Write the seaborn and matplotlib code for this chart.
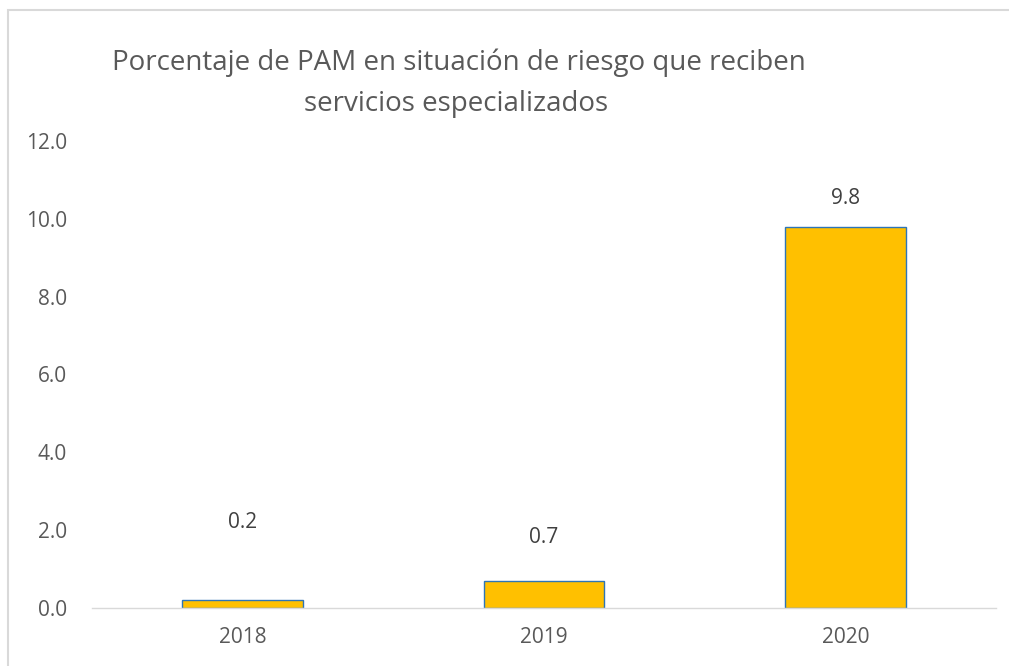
import matplotlib
matplotlib.use("Agg")
import matplotlib.pyplot as plt
import seaborn as sns
import pandas as pd
from matplotlib.patches import Rectangle

years = ["2018", "2019", "2020"]
values = [0.2, 0.7, 9.8]
value_labels = ["0.2", "0.7", "9.8"]
label_offsets = [2.0, 1.1, 0.73]
title_line1 = "Porcentaje de PAM en situación de riesgo que reciben"
title_line2 = "servicios especializados"
yticks = [0, 2, 4, 6, 8, 10, 12]

sns.set_theme(style="white")
plt.rcParams["font.family"] = ["Open Sans", "DejaVu Sans"]

W, H = 1009, 666
fig = plt.figure(figsize=(W / 100, H / 100), dpi=100)
fig.patch.set_facecolor("white")
ax = fig.add_axes([92 / W, 1 - 608 / H, (996 - 92) / W, (608 - 141) / H])

df = pd.DataFrame({"year": years, "value": values})
sns.barplot(data=df, x="year", y="value", ax=ax, color="#FFC000",
            edgecolor="#2E75B6", linewidth=1.0, width=0.4, saturation=1)

ax.set_ylim(0, 12)
ax.set_yticks(yticks)
ax.set_yticklabels([f"{v:.1f}" for v in yticks])
ax.set_xlabel("")
ax.set_ylabel("")
for s in ["top", "right", "left"]:
    ax.spines[s].set_visible(False)
ax.spines["bottom"].set_color("#D9D9D9")
ax.spines["bottom"].set_linewidth(1.0)
ax.tick_params(axis="both", length=0, colors="#595959", labelsize=15)
ax.tick_params(axis="y", pad=18)
ax.tick_params(axis="x", pad=14)

for i, (v, lab, off) in enumerate(zip(values, value_labels, label_offsets)):
    ax.text(i, v + off, lab, ha="center", va="center", color="#404040", fontsize=15)

fig.text(459 / W, 1 - 70 / H, title_line1, ha="center", va="baseline",
         color="#595959", fontsize=20)
fig.text(456 / W, 1 - 111 / H, title_line2, ha="center", va="baseline",
         color="#595959", fontsize=20)

fig.patches.append(Rectangle((8 / W, -0.01), 1.2, 1 - 10 / H + 0.01, transform=fig.transFigure,
                             fill=False, edgecolor="#D9D9D9", linewidth=1.5))

fig.savefig("out.png", dpi=100, facecolor="white")
